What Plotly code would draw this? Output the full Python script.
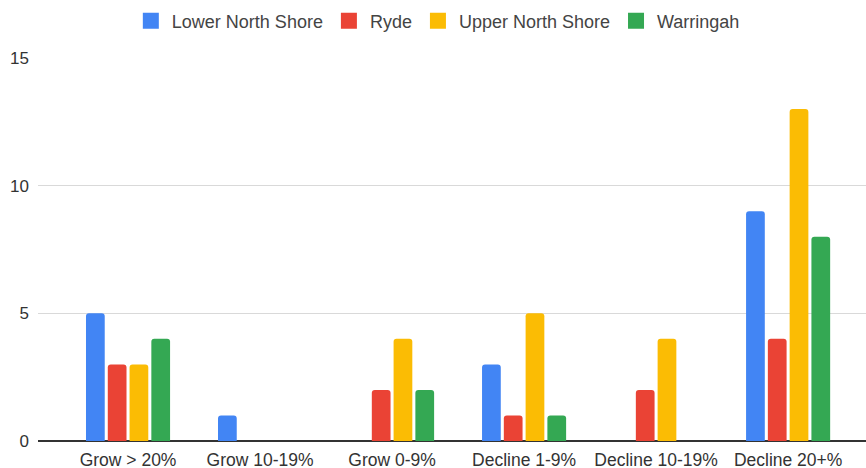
import plotly.graph_objects as go

categories = ["Grow > 20%", "Grow 10-19%", "Grow 0-9%", "Decline 1-9%", "Decline 10-19%", "Decline 20+%"]
lower_north_shore = [5, 1, 0, 3, 0, 9]
ryde = [3, 0, 2, 1, 2, 4]
upper_north_shore = [3, 0, 4, 5, 4, 13]
warringah = [4, 0, 2, 1, 0, 8]

series = [
    ("Lower North Shore", lower_north_shore, "#4285F4"),
    ("Ryde", ryde, "#EA4335"),
    ("Upper North Shore", upper_north_shore, "#FBBC04"),
    ("Warringah", warringah, "#34A853"),
]

FONT = "'Liberation Sans', Arial, sans-serif"

fig = go.Figure()
for name, vals, color in series:
    fig.add_trace(go.Bar(x=categories, y=vals, name=name, marker_color=color,
                         marker_line_width=0, legendgroup=name, showlegend=False))
# legend entries with larger square swatches
for name, vals, color in series:
    fig.add_trace(go.Scatter(x=[categories[0]], y=[None], mode="markers", name=name,
                             legendgroup=name,
                             marker=dict(symbol="square", size=16, color=color,
                                         line=dict(width=0))))

fig.update_layout(
    width=866, height=468,
    margin=dict(l=38, r=0, t=58, b=27),
    paper_bgcolor="white", plot_bgcolor="white",
    barmode="group", bargap=0.34, bargroupgap=0.14, barcornerradius=3,
    font=dict(family=FONT, size=17, color="#444"),
    legend=dict(orientation="h", xref="container", yref="container",
                x=0.505, xanchor="center", y=0.955, yanchor="middle",
                font=dict(size=18, color="#444"), itemwidth=32,
                itemsizing="trace", traceorder="normal"),
    xaxis=dict(range=[-0.682, 5.59], showgrid=False, ticks="", showline=False,
               tickfont=dict(size=17.5, color="#333"), ticklabelstandoff=6,
               automargin=False),
    yaxis=dict(range=[0, 15], tickvals=[0, 5, 10, 15], showgrid=True,
               gridcolor="#d9d9d9", gridwidth=1, zeroline=True,
               zerolinecolor="#333", zerolinewidth=1.5,
               tickfont=dict(size=17, color="#333"), ticklabelstandoff=8,
               automargin=False),
)

fig.write_html("out.html", config={"displayModeBar": False},
               post_script="document.body.style.margin='0';document.body.style.overflow='hidden';")
